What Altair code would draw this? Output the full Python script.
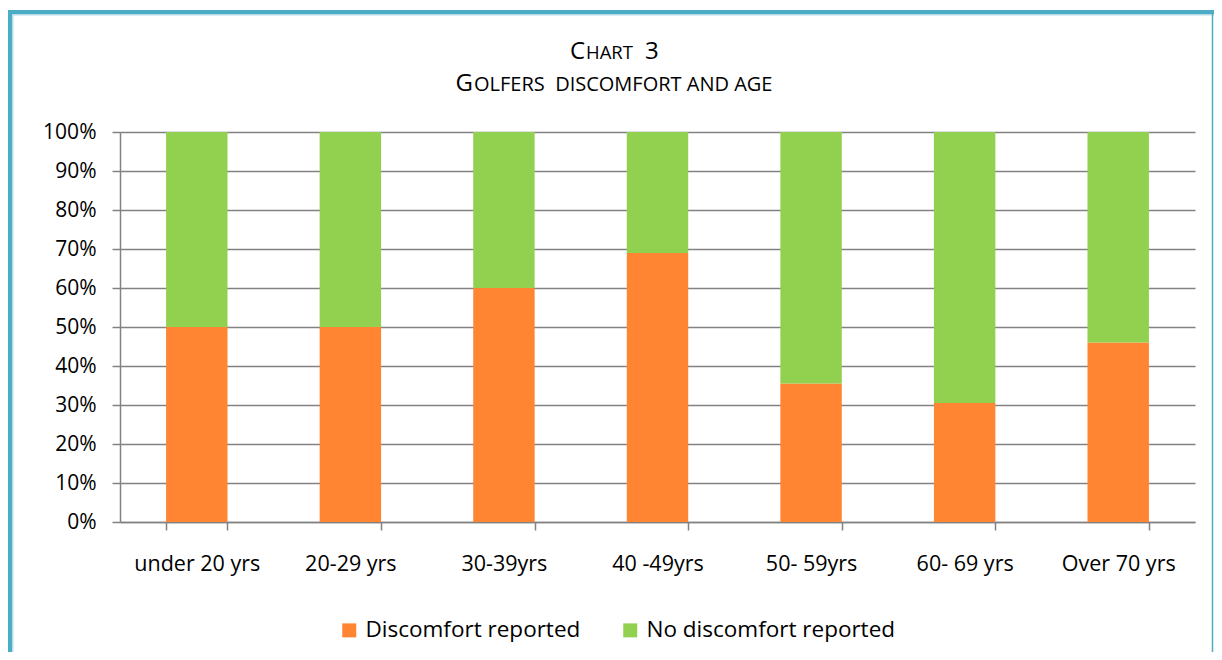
import altair as alt
import pandas as pd

categories = ["under 20 yrs", "20-29 yrs", "30-39yrs", "40 -49yrs", "50- 59yrs", "60- 69 yrs", "Over 70 yrs"]
discomfort = [50, 50, 60, 69, 35.5, 30.5, 46]
no_discomfort = [50, 50, 40, 31, 64.5, 69.5, 54]
series = ["Discomfort reported", "No discomfort reported"]
colors = ["#FF8533", "#92D050"]
y_ticks = [i / 10 for i in range(11)]

rows = []
for c, d, n in zip(categories, discomfort, no_discomfort):
    rows.append({"cat": c, "series": series[0], "value": d / 100, "ord": 0})
    rows.append({"cat": c, "series": series[1], "value": n / 100, "ord": 1})
df = pd.DataFrame(rows)

FONT = "Open Sans"
W, H = 1075, 390
GRAY = "#828282"
BORDER = "#4BACC6"

bars = alt.Chart(df).mark_bar().encode(
    x=alt.X("cat:N", sort=categories,
            scale=alt.Scale(paddingInner=0.6, paddingOuter=0.3),
            axis=alt.Axis(title=None, labelAngle=0, tickBand="extent", grid=False,
                          domainColor=GRAY, domainWidth=1.5, tickColor=GRAY, tickWidth=1.5,
                          tickSize=8, labelFont=FONT, labelFontSize=21.5, labelColor="#000000",
                          labelPadding=23)),
    y=alt.Y("value:Q", stack="zero", scale=alt.Scale(domain=[0, 1]),
            axis=alt.Axis(title=None, format=".0%", values=y_ticks, grid=True,
                          gridColor=GRAY, gridWidth=1.6, domainColor=GRAY, domainWidth=1.5,
                          tickColor=GRAY, tickWidth=1.5, tickSize=8, labelFont=FONT,
                          labelFontSize=21, labelColor="#000000", labelPadding=16)),
    color=alt.Color("series:N", scale=alt.Scale(domain=series, range=colors),
                    legend=alt.Legend(title=None, orient="none", direction="horizontal",
                                      legendX=218, legendY=487, symbolType="square",
                                      symbolSize=196, symbolStrokeWidth=0,
                                      labelFont=FONT, labelFontSize=22.5, labelColor="#000000",
                                      labelOffset=5, columnPadding=38, labelLimit=0)),
    order=alt.Order("ord:Q"),
)

one = pd.DataFrame({"k": [0]})

def txt(s, size, x, y, align):
    return alt.Chart(one).mark_text(text=s, font=FONT, fontSize=size, align=align,
                                    baseline="alphabetic", color="#000000").encode(
        x=alt.value(x), y=alt.value(y))

title_parts = [
    txt("C", 24, 465, -73, "right"),
    txt("HART", 18.5, 466, -73, "left"),
    txt("3", 24, 525, -73, "left"),
    txt("G", 24, 353, -41, "right"),
    txt("OLFERS\u00a0\u00a0DISCOMFORT AND AGE", 20, 354, -41, "left"),
]

border_left = alt.Chart(one).mark_rule(color=BORDER, strokeWidth=5).encode(
    x=alt.value(-110.5), y=alt.value(-122), y2=alt.value(H + 130))
border_left_light = alt.Chart(one).mark_rule(color="#B7DDE8", strokeWidth=1.5).encode(
    x=alt.value(-107.3), y=alt.value(-118), y2=alt.value(H + 130))
border_top = alt.Chart(one).mark_rule(color=BORDER, strokeWidth=4).encode(
    y=alt.value(-120), x=alt.value(-113), x2=alt.value(1100))
border_top_light = alt.Chart(one).mark_rule(color="#B7DDE8", strokeWidth=1.5).encode(
    y=alt.value(-117.3), x=alt.value(-108), x2=alt.value(1100))
border_right = alt.Chart(one).mark_rule(color=BORDER, strokeWidth=1.5).encode(
    x=alt.value(1092.5), y=alt.value(-122), y2=alt.value(H + 130))

chart = alt.layer(
    bars, *title_parts, border_left, border_left_light, border_top, border_top_light, border_right
).properties(
    width=W, height=H,
    padding={"left": 112, "top": 124, "right": 19, "bottom": 130},
    autosize=alt.AutoSizeParams(type="none"),
).configure_view(stroke=None)

chart.save("out.html", embed_options={"renderer": "svg", "actions": False})
